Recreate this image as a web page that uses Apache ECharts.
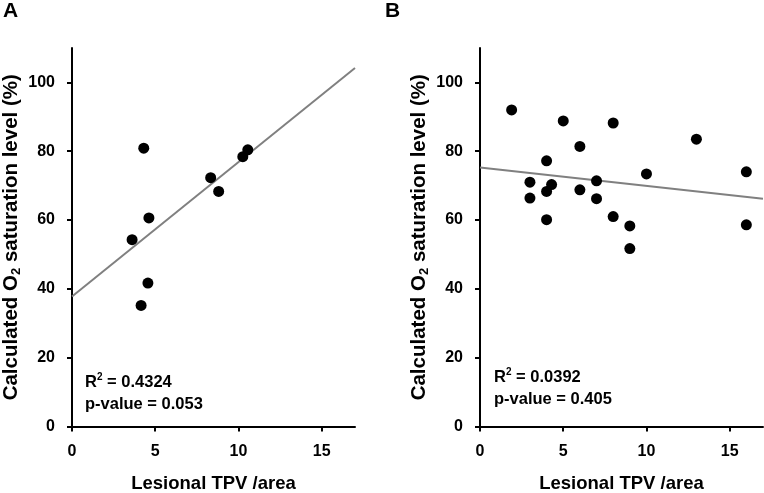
<!DOCTYPE html>
<html>
<head>
<meta charset="utf-8">
<script src="https://cdn.jsdelivr.net/npm/echarts@6/dist/echarts.min.js"></script>
<style>html,body{margin:0;padding:0;background:#fff}#c{width:764px;height:493px}</style>
</head>
<body>
<div id="c"></div>
<script>
// Panel A data
var pointsA = [[4.31,80.9],[4.62,60.6],[3.61,54.3],[4.56,41.7],[4.15,35.2],[8.33,72.3],[8.81,68.3],[10.26,78.4],[10.56,80.4]];
var fitA = [[0,37.8],[17,104.2]];
// Panel B data
var pointsB = [[1.9,92.0],[5,88.8],[8,88.2],[6,81.4],[13,83.5],[4,77.2],[3,71.0],[4.3,70.3],[4,68.3],[3,66.4],[6,68.8],[7,71.4],[7,66.2],[10,73.4],[4,60.1],[8,61.0],[9,58.3],[9,51.7],[16,74.0],[16,58.6]];
var fitB = [[0,75.3],[17,66.2]];
var xTicks = [0,5,10,15];
var yTicks = [0,20,40,60,80,100];
var statsA = ['0.4324','0.053'];
var statsB = ['0.0392','0.405'];

var FF = '"Liberation Sans", Arial, sans-serif';
function xAx(i){
  return {gridIndex:i, type:'value', min:0, max:17, interval:5,
    axisLine:{show:true, lineStyle:{color:'#000', width:2}},
    axisTick:{show:true, length:5, lineStyle:{color:'#000', width:2}, customValues:xTicks},
    axisLabel:{color:'#000', fontFamily:FF, fontWeight:'bold', fontSize:16, margin:17, customValues:xTicks},
    splitLine:{show:false},
    name:'Lesional TPV /area', nameLocation:'middle', nameGap:48,
    nameTextStyle:{color:'#000', fontFamily:FF, fontWeight:'bold', fontSize:18.5}
  };
}
function yAx(i){
  return {gridIndex:i, type:'value', min:0, max:110, interval:10,
    axisLine:{show:true, lineStyle:{color:'#000', width:2}},
    axisTick:{show:true, length:5, lineStyle:{color:'#000', width:2}, customValues:yTicks},
    axisLabel:{color:'#000', fontFamily:FF, fontWeight:'bold', fontSize:16, margin:17, customValues:yTicks},
    splitLine:{show:false},
    name:'Calculated O{s|2} saturation level (%)', nameLocation:'middle', nameGap:49,
    nameTextStyle:{color:'#000', fontFamily:FF, fontWeight:'bold', fontSize:20.5,
      rich:{s:{color:'#000', fontFamily:FF, fontWeight:'bold', fontSize:13, padding:[10,0,0,0]}}}
  };
}
function stat(s, left, top){
  return {left:left, top:top, padding:0, itemGap:0,
    text:'{a|R}{u|2}{a| = '+s[0]+'}\n{a|p-value = '+s[1]+'}',
    textStyle:{rich:{
      a:{color:'#000', fontFamily:FF, fontWeight:'bold', fontSize:16.5, lineHeight:22},
      u:{color:'#000', fontFamily:FF, fontWeight:'bold', fontSize:10, lineHeight:22, padding:[0,0,9,0]}
    }}
  };
}
var chart = echarts.init(document.getElementById('c'), null, {renderer:'canvas'});
chart.setOption({
  animation:false,
  backgroundColor:'#fff',
  title:[
    {text:'A', left:3, top:1, padding:0, textStyle:{color:'#000', fontFamily:FF, fontWeight:'bold', fontSize:21}},
    {text:'B', left:385, top:1, padding:0, textStyle:{color:'#000', fontFamily:FF, fontWeight:'bold', fontSize:21}},
    stat(statsA, 85, 371),
    stat(statsB, 494, 366)
  ],
  grid:[
    {left:72, top:48, width:283, height:378.5, containLabel:false, outerBoundsMode:'none'},
    {left:480, top:48, width:283, height:378.5, containLabel:false, outerBoundsMode:'none'}
  ],
  xAxis:[xAx(0), xAx(1)],
  yAxis:[yAx(0), yAx(1)],
  series:[
    {type:'line', xAxisIndex:0, yAxisIndex:0, data:fitA, showSymbol:false, symbol:'none', lineStyle:{color:'#808080', width:2}, z:1},
    {type:'scatter', xAxisIndex:0, yAxisIndex:0, data:pointsA, symbolSize:11, itemStyle:{color:'#000', opacity:1}, z:2},
    {type:'line', xAxisIndex:1, yAxisIndex:1, data:fitB, showSymbol:false, symbol:'none', lineStyle:{color:'#808080', width:2}, z:1},
    {type:'scatter', xAxisIndex:1, yAxisIndex:1, data:pointsB, symbolSize:11, itemStyle:{color:'#000', opacity:1}, z:2}
  ]
});
</script>
</body>
</html>
